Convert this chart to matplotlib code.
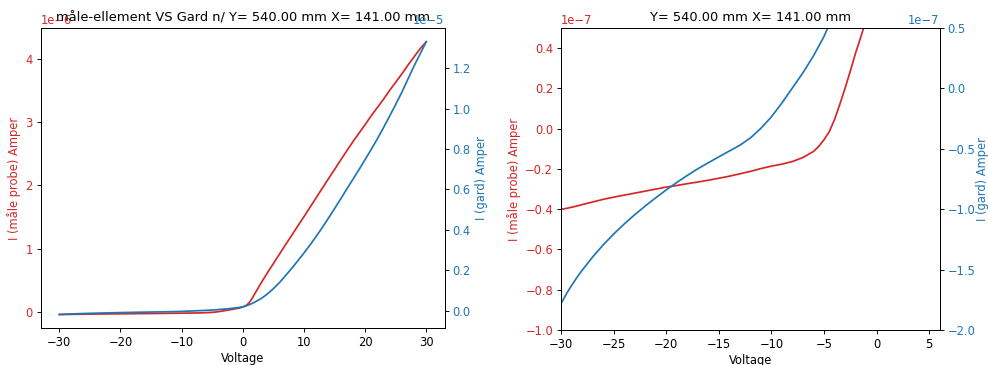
import matplotlib
matplotlib.use("Agg")
import matplotlib.pyplot as plt
import numpy as np

voltage = [-30, -29.5, -29, -28.5, -28,
           -27, -26, -25, -24, -23, -22, -21, -20, -19, -18, -17, -16, -15,
           -14, -13, -12, -11, -10, -9, -8, -7, -6,
           -5.5, -5, -4.5, -4, -3.5, -3, -2.5, -2, -1.5, -1, -0.5, 0, 0.5, 1,
           1.5,
           2, 3, 4, 5, 6, 7, 8, 9, 10, 11, 12, 13, 14, 15, 16, 17, 18, 19, 20,
           21, 22, 23, 24, 25, 26, 27, 28, 29, 30]

# probe current, units of 1e-7 A
probe_e7 = [-0.400, -0.396, -0.390, -0.384, -0.377,
            -0.364, -0.351, -0.340, -0.330, -0.320, -0.310, -0.300, -0.290,
            -0.282, -0.273, -0.265, -0.256, -0.246, -0.236, -0.224, -0.212,
            -0.198, -0.186, -0.176, -0.163, -0.143, -0.113,
            -0.088, -0.055, -0.015, 0.045, 0.120, 0.200, 0.285, 0.375, 0.455,
            0.540, 0.640, 0.780, 1.00, 1.40, 2.10,
            2.95, 4.6, 6.15, 7.65, 9.15, 10.65, 12.1, 13.6, 15.05, 16.55, 18.05,
            19.55, 21.05, 22.5, 24.0, 25.45, 26.9, 28.25, 29.6, 31.0, 32.3,
            33.6, 35.0, 36.3, 37.6, 39.0, 40.3, 41.6, 42.7]

# gard current, units of 1e-7 A
gard_e7 = [-1.78, -1.70, -1.63, -1.565, -1.505,
           -1.395, -1.295, -1.205, -1.122, -1.045, -0.973, -0.905, -0.84,
           -0.778, -0.72, -0.665, -0.615, -0.566, -0.518, -0.47, -0.41, -0.33,
           -0.235, -0.12, 0.005, 0.13, 0.27,
           0.35, 0.43, 0.53, 0.64, 0.76, 0.90, 1.04, 1.20, 1.37, 1.55, 1.76,
           2.0, 2.45, 3.0, 3.65,
           4.4, 6.1, 8.3, 11.0, 14.0, 17.5, 21.0, 24.8, 28.6, 32.6, 36.8,
           41.2, 45.8, 50.5, 55.3, 60.2, 65.0, 69.8, 74.8, 79.8, 85.0, 90.5,
           96.2, 102.0, 108.0, 114.5, 121.0, 127.0, 133.0]

title_left = "måle-ellement VS Gard n/ Y= 540.00 mm X= 141.00 mm"
title_right = "Y= 540.00 mm X= 141.00 mm"

v = np.array(voltage)
probe = np.array(probe_e7) * 1e-7
gard = np.array(gard_e7) * 1e-7

red = "tab:red"
blue = "tab:blue"

# the original was rendered smaller than 100 dpi, so scale styles down
k = 0.83
plt.rcParams.update({
    "font.size": 10 * k,
    "axes.titlesize": 9.4,
    "lines.linewidth": 1.5 * k,
    "axes.linewidth": 0.8 * k,
    "xtick.major.size": 3.5 * k,
    "ytick.major.size": 3.5 * k,
    "xtick.major.width": 0.8 * k,
    "ytick.major.width": 0.8 * k,
    "xtick.major.pad": 3.5 * k,
    "ytick.major.pad": 3.5 * k,
    "axes.labelpad": 4 * k,
})

fig = plt.figure(figsize=(9.88, 3.65), dpi=100)
ax1 = fig.add_axes([0.0415, 0.101, 0.4085, 0.822])
ax3 = fig.add_axes([0.568, 0.096, 0.383, 0.827])


def twin_plot(ax, title, rpad):
    ax.plot(v, probe, color=red)
    ax.set_xlabel("Voltage", labelpad=2)
    ax.set_ylabel("I (måle probe) Amper", color=red)
    ax.tick_params(axis="y", labelcolor=red)
    ax.yaxis.get_offset_text().set_color(red)
    # fixed y so the title sits over the offset text like the original
    ax.set_title(title, y=1.0, pad=5)
    ax2 = ax.twinx()
    ax2.plot(v, gard, color=blue)
    ax2.set_ylabel("I (gard) Amper", color=blue, labelpad=rpad)
    ax2.tick_params(axis="y", labelcolor=blue)
    ax2.yaxis.get_offset_text().set_color(blue)
    return ax2


ax2 = twin_plot(ax1, title_left, 3)

ax4 = twin_plot(ax3, title_right, 0)
ax3.set_xlim(-30, 6)
ax3.set_ylim(-1.0e-7, 0.5e-7)
ax4.set_ylim(-2.0e-7, 0.5e-7)
ax4.set_yticks(np.arange(-2.0, 0.51, 0.5) * 1e-7)

fig.savefig("out.png", dpi=100)
